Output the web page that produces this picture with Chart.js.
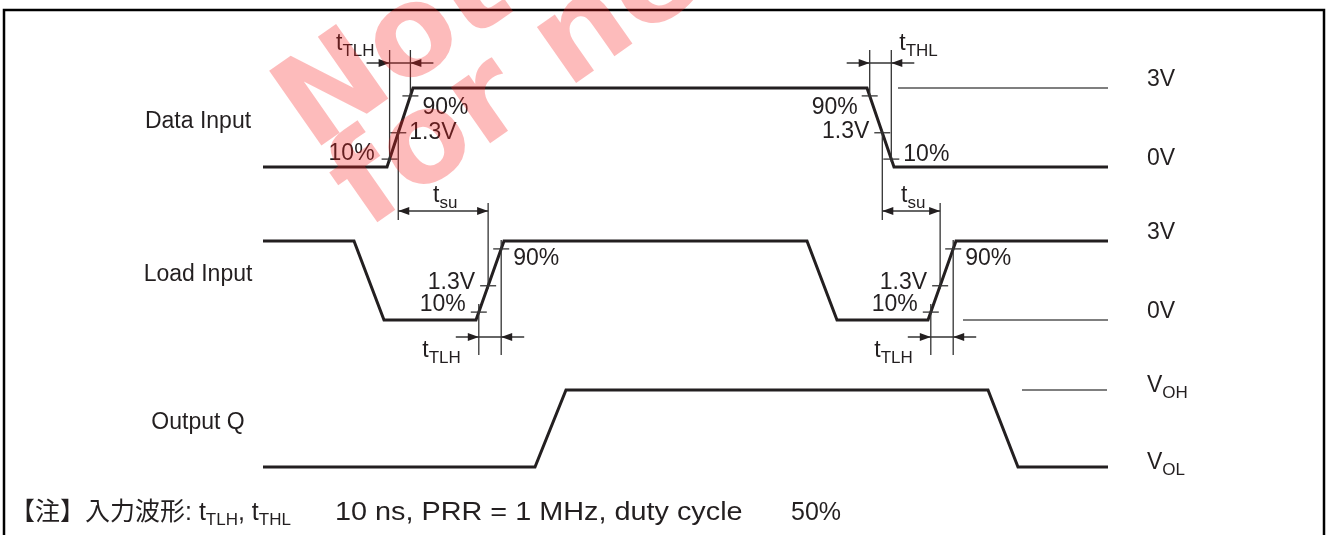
<!DOCTYPE html>
<html>
<head>
<meta charset="utf-8">
<script src="https://cdn.jsdelivr.net/npm/chart.js@4.4.1/dist/chart.umd.min.js"></script>
<style>
    html, body { margin: 0; padding: 0; background: #fff; }
    #wrap { width: 1329px; height: 535px; }
</style>
</head>
<body>
<div id="wrap"><canvas id="timing" width="1329" height="535"></canvas></div>
<script>
// signal names and the level names printed at the right
const rowNames = ['Data Input', 'Load Input', 'Output Q'];
const levelNames = [['3V', '0V'], ['3V', '0V'], ['V|OH', 'V|OL']];

// waveform corner times and levels, 0 = low, 1 = high
const dataTimes = [263, 387, 413, 867, 894, 1108];
const dataLevels = [0, 0, 1, 1, 0, 0];
const loadTimes = [263, 354, 384, 476, 504, 807, 837, 928, 956, 1108];
const loadLevels = [1, 1, 0, 0, 1, 1, 0, 0, 1, 1];
const outTimes = [263, 535, 566, 988, 1018, 1108];
const outLevels = [0, 0, 1, 1, 0, 0];

// thin reference lines on the right side
const refTimes = [[898, 1108], [963, 1108], [1022, 1107]];
const refLevels = [1, 0, 1];

// measuring points as fraction of the 3V swing
const thresholds = [0.1, 1.3 / 3, 0.9];
const thresholdNames = ['10%', '1.3V', '90%'];

// footer note
const notePieces = ['【注】入力波形: t', 'TLH', ', t', 'THL'];
const noteMiddle = '10 ns, PRR = 1 MHz, duty cycle';
const noteEnd = '50%';

// watermark lines
const stampLines = ['Not recommended', 'for new design'];

// layout of the rows (y in canvas units)
const rowHigh = [88, 241, 390];
const rowLow = [167, 320, 467];

const ink = '#231f20';
const family = "'Liberation Sans', Arial, 'Noto Sans CJK JP', sans-serif";

function yOf(row, level) {
    return rowLow[row] - level * (rowLow[row] - rowHigh[row]);
}

function crossTime(times, levels, seg, f) {
    const t0 = times[seg], t1 = times[seg + 1];
    const l0 = levels[seg], l1 = levels[seg + 1];
    return t0 + (f - l0) / (l1 - l0) * (t1 - t0);
}

function waveSet(times, levels, row) {
    return {
        data: times.map((t, i) => ({ x: t, y: yOf(row, levels[i]) })),
        showLine: true,
        borderColor: ink,
        borderWidth: 3,
        pointRadius: 0,
        clip: false
    };
}

// draws main text with optional subscript parts (pieces alternate main / sub)
function richText(ctx, pieces, x, y, align, size, subSize, drop) {
    let total = 0;
    const widths = pieces.map((p, i) => {
        ctx.font = (i % 2 ? subSize : size) + 'px ' + family;
        const w = ctx.measureText(p).width;
        total += w;
        return w;
    });
    let cx = align === 'right' ? x - total : align === 'center' ? x - total / 2 : x;
    ctx.textAlign = 'left';
    ctx.textBaseline = 'alphabetic';
    pieces.forEach((p, i) => {
        ctx.font = (i % 2 ? subSize : size) + 'px ' + family;
        ctx.fillText(p, cx, i % 2 ? y + drop : y);
        cx += widths[i];
    });
}

function label(ctx, spec, x, y, align) {
    richText(ctx, spec.split('|'), x, y, align, 23, 17, 6);
}

function arrowHead(ctx, tipX, y, dir) {
    ctx.beginPath();
    ctx.moveTo(tipX, y);
    ctx.lineTo(tipX - dir * 11, y - 4);
    ctx.lineTo(tipX - dir * 11, y + 4);
    ctx.closePath();
    ctx.fill();
}

function vLine(ctx, x, y0, y1) {
    ctx.beginPath();
    ctx.moveTo(x, y0);
    ctx.lineTo(x, y1);
    ctx.stroke();
}

function hLine(ctx, x0, x1, y) {
    ctx.beginPath();
    ctx.moveTo(x0, y);
    ctx.lineTo(x1, y);
    ctx.stroke();
}

// edges that carry threshold ticks; label offsets are [threshold, align, dx, dy]
const edgeMarks = [
    { times: dataTimes, levels: dataLevels, row: 0, seg: 1,
      labels: [[0, 'right', -15, -5], [1, 'left', 11, 0], [2, 'left', 12, 12]] },
    { times: dataTimes, levels: dataLevels, row: 0, seg: 3,
      labels: [[2, 'right', -12, 12], [1, 'right', -13, -1], [0, 'left', 12, -4]] },
    { times: loadTimes, levels: loadLevels, row: 1, seg: 3,
      labels: [[2, 'left', 12, 10], [1, 'right', -13, -3], [0, 'right', -13, -7]] },
    { times: loadTimes, levels: loadLevels, row: 1, seg: 7,
      labels: [[2, 'left', 12, 10], [1, 'right', -13, -3], [0, 'right', -13, -7]] }
];

const timingPlugin = {
    id: 'timing',
    beforeDraw(chart) {
        const ctx = chart.ctx;
        ctx.save();
        ctx.fillStyle = '#fff';
        ctx.fillRect(0, 0, chart.width, chart.height);
        ctx.restore();
    },
    afterDatasetsDraw(chart) {
        const ctx = chart.ctx;
        const xs = chart.scales.x, ys = chart.scales.y;
        const px = t => xs.getPixelForValue(t);
        const py = v => ys.getPixelForValue(v);

        const cross = (m, k) => {
            const f = thresholds[k];
            return { x: px(crossTime(m.times, m.levels, m.seg, f)), y: py(yOf(m.row, f)) };
        };

        ctx.save();
        ctx.fillStyle = ink;
        ctx.strokeStyle = '#333';
        ctx.lineWidth = 1.3;

        // threshold ticks and their labels
        edgeMarks.forEach(m => {
            thresholds.forEach((f, k) => {
                const c = cross(m, k);
                hLine(ctx, c.x - 8, c.x + 8, c.y);
            });
            m.labels.forEach(([k, align, dx, dy]) => {
                const c = cross(m, k);
                ctx.font = '23px ' + family;
                ctx.textAlign = align;
                ctx.textBaseline = 'middle';
                ctx.fillText(thresholdNames[k], c.x + dx, c.y + dy);
            });
        });

        // t_TLH / t_THL of data input (above)
        [[edgeMarks[0], 't|TLH', 'right'], [edgeMarks[1], 't|THL', 'left']].forEach(([m, txt, side]) => {
            const a = cross(m, 0), b = cross(m, 2);
            const l = a.x < b.x ? a : b, r = a.x < b.x ? b : a;
            vLine(ctx, l.x, 50, l.y + 3);
            vLine(ctx, r.x, 50, r.y + 3);
            hLine(ctx, l.x - 23, r.x + 23, 63);
            arrowHead(ctx, l.x, 63, 1);
            arrowHead(ctx, r.x, 63, -1);
            if (side === 'right') label(ctx, txt, l.x - 15, 50, 'right');
            else label(ctx, txt, r.x + 8, 50, 'left');
        });

        // t_su between data 1.3V and load 1.3V
        [[edgeMarks[0], edgeMarks[2]], [edgeMarks[1], edgeMarks[3]]].forEach(([md, ml]) => {
            const a = cross(md, 1), b = cross(ml, 1);
            vLine(ctx, a.x, a.y - 3, 220);
            vLine(ctx, b.x, 203, b.y + 3);
            hLine(ctx, a.x, b.x, 211);
            arrowHead(ctx, a.x, 211, -1);
            arrowHead(ctx, b.x, 211, 1);
            label(ctx, 't|su', (a.x + b.x) / 2 + 2, 202, 'center');
        });

        // t_TLH of load input (below)
        [edgeMarks[2], edgeMarks[3]].forEach(m => {
            const a = cross(m, 0), b = cross(m, 2);
            vLine(ctx, a.x, a.y - 8, 355);
            vLine(ctx, b.x, b.y - 9, 355);
            hLine(ctx, a.x - 23, b.x + 23, 337);
            arrowHead(ctx, a.x, 337, 1);
            arrowHead(ctx, b.x, 337, -1);
            label(ctx, 't|TLH', a.x - 18, 357, 'right');
        });

        // row names on the left
        rowNames.forEach((name, r) => {
            ctx.font = '23px ' + family;
            ctx.textAlign = 'center';
            ctx.textBaseline = 'alphabetic';
            ctx.fillText(name, px(198), py((rowHigh[r] + rowLow[r]) / 2));
        });

        // level names on the right
        levelNames.forEach((pair, r) => {
            pair.forEach((name, k) => {
                const lv = k === 0 ? 1 : 0;
                const base = name.indexOf('|') >= 0 ? 2 : -2;
                label(ctx, name, px(1147), py(yOf(r, lv)) + base, 'left');
            });
        });

        // footer note (middle part is set a little wide, as in the original)
        richText(ctx, notePieces, 10, 520, 'left', 25, 17, 5);
        ctx.save();
        ctx.translate(335, 520);
        ctx.scale(1.13, 1);
        richText(ctx, [noteMiddle], 0, 0, 'left', 25.5, 17, 5);
        ctx.restore();
        richText(ctx, [noteEnd], 791, 520, 'left', 25, 17, 5);

        // frame
        ctx.strokeStyle = '#000';
        ctx.lineWidth = 2.5;
        ctx.strokeRect(4, 10, 1320, 600);
        ctx.restore();
    },
    afterDraw(chart) {
        // watermark
        const ctx = chart.ctx;
        ctx.save();
        ctx.fillStyle = 'rgba(250, 30, 30, 0.3)';
        ctx.font = "bold 125px 'DejaVu Sans', sans-serif";
        ctx.textAlign = 'left';
        ctx.textBaseline = 'alphabetic';
        ctx.translate(312, 152);
        ctx.rotate(-35 * Math.PI / 180);
        ctx.fillText(stampLines[0], 0, 0);
        ctx.fillText(stampLines[1], 0, 95);
        ctx.restore();
    }
};

const datasets = [
    waveSet(dataTimes, dataLevels, 0),
    waveSet(loadTimes, loadLevels, 1),
    waveSet(outTimes, outLevels, 2)
];
refTimes.forEach((span, r) => {
    datasets.push({
        data: span.map(t => ({ x: t, y: yOf(r, refLevels[r]) })),
        showLine: true,
        borderColor: '#555',
        borderWidth: 1.5,
        pointRadius: 0,
        clip: false
    });
});

new Chart(document.getElementById('timing'), {
    type: 'scatter',
    data: { datasets: datasets },
    options: {
        responsive: false,
        animation: false,
        devicePixelRatio: 1,
        layout: { padding: 0 },
        scales: {
            x: { type: 'linear', min: 0, max: 1329, display: false },
            y: { type: 'linear', min: 0, max: 535, reverse: true, display: false }
        },
        plugins: {
            legend: { display: false },
            tooltip: { enabled: false }
        }
    },
    plugins: [timingPlugin]
});
</script>
</body>
</html>
